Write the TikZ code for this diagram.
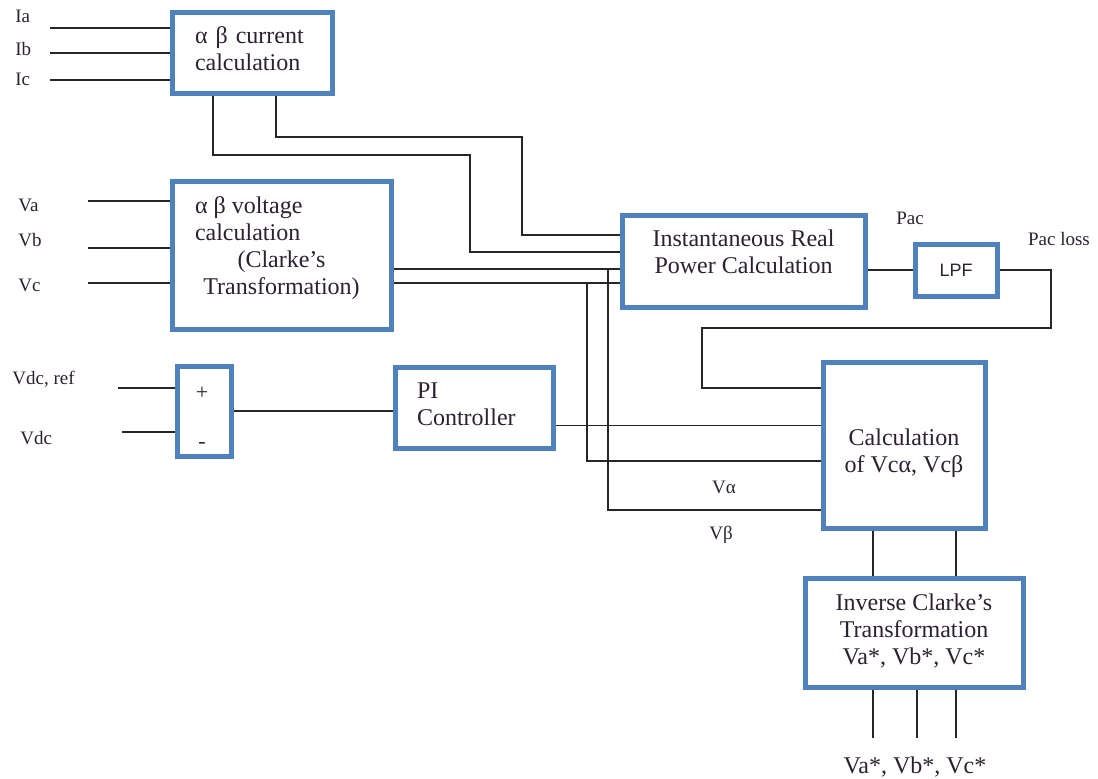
\documentclass[tikz,border=0pt]{standalone}
\usepackage{fontspec}
\setmainfont{Liberation Serif}
\setsansfont{Liberation Sans}
\usetikzlibrary{calc}

\definecolor{blkblue}{HTML}{4F81BD}
\definecolor{txt}{HTML}{2B2130}

\begin{document}
\begin{tikzpicture}[x=0.5pt, y=-0.5pt,
  blk/.style={draw=blkblue, line width=2.5pt, fill=white, inner sep=0pt, text=txt,
    font=\fontsize{12}{13.5}\selectfont},
  boxtxt/.style={inner sep=0pt, text=txt, font=\fontsize{12}{13.5}\selectfont},
  lbl/.style={inner sep=0pt, text=txt, font=\fontsize{9.5}{11}\selectfont},
  wire/.style={line width=0.7pt, draw=black!85}]
\useasboundingbox (0,0) rectangle (1098,778);

% blocks
\node[blk, minimum width=80pt, minimum height=40.5pt] (cur) at (252,52.5) {};
\node[blk, minimum width=109.5pt, minimum height=74pt] (volt) at (281.5,255) {};
\node[blk, minimum width=121.5pt, minimum height=46pt] (pow) at (743.5,261) {};
\node[blk, minimum width=41pt, minimum height=26pt, font=\sffamily\fontsize{9}{11}\selectfont] (lpf) at (956,270) {LPF};
\node[blk, minimum width=27pt, minimum height=45pt] (sum) at (204,411) {};
\node[blk, minimum width=79pt, minimum height=40.5pt] (pi) at (474,407.5) {};
\node[blk, minimum width=81pt, minimum height=83pt] (calc) at (904,445) {};
\node[blk, minimum width=109pt, minimum height=54.5pt] (inv) at (914,632.5) {};

% block texts
\node[boxtxt, text width=57pt, align=left] (curt) at ([yshift=2pt]cur) {α β current\\calculation};
\node[boxtxt, align=center] (voltt) at ([yshift=3.5pt]volt)
  {\makebox[86.5pt][l]{α β voltage}\\\makebox[86.5pt][l]{calculation}\\(Clarke’s\\Transformation)};
\node[boxtxt, align=center] (powt) at ([yshift=4.75pt]pow) {Instantaneous Real\\Power Calculation};
\node[boxtxt, text width=57pt, align=left] (pit) at ([yshift=1.5pt]pi) {PI\\Controller};
\node[boxtxt, align=center] (calct) at ([yshift=-4pt]calc) {Calculation\\of Vcα, Vcβ};
\node[boxtxt, align=center] (invt) at ([yshift=0.5pt]inv) {Inverse Clarke’s\\Transformation\\Va*, Vb*, Vc*};

% signs and labels
\node[lbl, font=\fontsize{11}{13}\selectfont] (plus) at (202,393) {+};
\node[lbl, font=\fontsize{11}{13}\selectfont] (minus) at (202,445) {-};
\node[lbl, anchor=west] (ia) at (15,16) {Ia};
\node[lbl, anchor=west] (ib) at (15,49) {Ib};
\node[lbl, anchor=west] (ic) at (15,79) {Ic};
\node[lbl, anchor=west] (va) at (18,205) {Va};
\node[lbl, anchor=west] (vb) at (18,240) {Vb};
\node[lbl, anchor=west] (vc) at (18,285) {Vc};
\node[lbl, anchor=west] (vdcref) at (12,379) {Vdc, ref};
\node[lbl, anchor=west] (vdc) at (20,438) {Vdc};
\node[lbl] (pac) at (910,218) {Pac};
\node[lbl] (pacloss) at (1059,239) {Pac loss};
\node[lbl] (valpha) at (724,487) {Vα};
\node[lbl] (vbeta) at (721,535) {Vβ};
\node[lbl, font=\fontsize{12}{14}\selectfont] (vout) at (915,767) {Va*, Vb*, Vc*};

% inputs
\foreach \n/\y in {a/28,b/53,c/80} {
  \coordinate (i\n) at (50,\y);
  \draw[wire] (i\n) -- (i\n -| cur.west);
}
\foreach \n/\y in {a/201,b/248,c/283} {
  \coordinate (v\n) at (88,\y);
  \draw[wire] (v\n) -- (v\n -| volt.west);
}
\coordinate (vr) at (118,388);
\coordinate (vd) at (122,432);
\draw[wire] (vr) -- (vr -| sum.west);
\draw[wire] (vd) -- (vd -| sum.west);

% current and voltage to power
\draw[wire] ([xshift=12pt]cur.south) |- (522,137) |- ([yshift=13pt]pow.west);
\draw[wire] ([xshift=-19.5pt]cur.south) |- (470,155) |- ([yshift=4.5pt]pow.west);
\coordinate (vo1) at ([yshift=-7pt]volt.east);
\coordinate (vo2) at ([yshift=-14pt]volt.east);
\draw[wire] (vo1) -- (vo1 -| pow.west);
\draw[wire] (vo2) -- (vo2 -| pow.west);

% v alpha, v beta taps
\coordinate (ja) at (608,269);
\coordinate (jb) at (587,283);
\draw[wire] (ja) |- ([yshift=-32.5pt]calc.west);
\draw[wire] (jb) |- ([yshift=-8pt]calc.west);

% dc loop
\draw[wire] (sum.east) -- (sum.east -| pi.west);
\coordinate (po) at ([yshift=-9pt]pi.east);
\draw[wire] (po) -- (po -| calc.west);

% power loss path
\draw[wire] (lpf.west -| pow.east) -- (lpf.west);
\draw[wire] (lpf.east) -| (1051,328) -| (702,388) -- ([yshift=28.5pt]calc.west);

% to inverse clarke and out
\foreach \s/\n in {-15.5/1,26/2} {
  \coordinate (cv\n) at ([xshift=\s pt]calc.south);
  \draw[wire] (cv\n) -- (cv\n |- inv.north);
}
\foreach \s/\n in {-20.5/a,1.5/b,21/c} {
  \coordinate (o\n) at ([xshift=\s pt]inv.south);
  \draw[wire] (o\n) -- ++(0,48);
}
\end{tikzpicture}
\end{document}
